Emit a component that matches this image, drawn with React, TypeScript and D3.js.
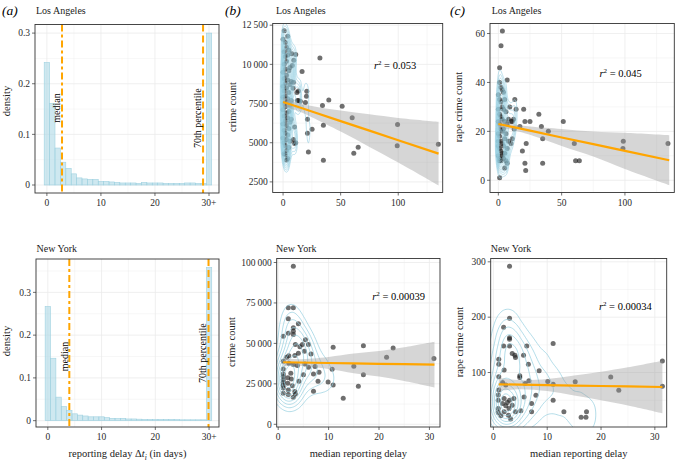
import React, { useEffect, useRef } from "react";
import * as d3 from "d3";

// ---- (a) reporting delay histograms, one bin per day, last bin is "30+" ----
const delayBins = [0, 1, 2, 3, 4, 5, 6, 7, 8, 9, 10, 11, 12, 13, 14, 15, 16, 17, 18, 19, 20, 21, 22, 23, 24, 25, 26, 27, 28, 29, 30];
const laDensity = [0.242, 0.161, 0.073, 0.045, 0.033, 0.022, 0.014, 0.012, 0.011, 0.011, 0.007, 0.007, 0.006, 0.005, 0.004, 0.004, 0.004, 0.003, 0.005, 0.004, 0.004, 0.004, 0.003, 0.003, 0.003, 0.003, 0.004, 0.004, 0.003, 0.003, 0.3];
const nyDensity = [0.267, 0.146, 0.055, 0.033, 0.024, 0.016, 0.013, 0.011, 0.009, 0.009, 0.009, 0.007, 0.0055, 0.005, 0.0055, 0.004, 0.004, 0.0035, 0.003, 0.003, 0.003, 0.003, 0.003, 0.003, 0.0025, 0.002, 0.002, 0.002, 0.002, 0.002, 0.358];
const delayTicks = [0, 10, 20, 30];
const delayTickLabels = ["0", "10", "20", "30+"];
const laMedian = 2.8;
const laPct70 = 28.9;
const nyMedian = 4.0;
const nyPct70 = 29.9;

// ---- (b),(c) scatter: [median reporting delay, count] ----
const laCrime = [
  [32, 10400], [16.5, 9550], [11, 10630], [7.5, 10670], [9.3, 10270], [8, 9920], [20.6, 8290], [20.3, 7970],
  [19.4, 7560], [39.7, 7730], [34.2, 7370], [51.3, 7330], [60, 6590], [21.2, 6500], [35, 6120], [25.2, 5860],
  [21.2, 5600], [99.4, 6160], [99.1, 4800], [134.8, 4900], [65.2, 4710], [61.4, 4330], [22, 4410], [35, 3880],
  [13.3, 8300], [12, 8200], [12.5, 7700], [13.5, 7700], [15, 7650], [8.7, 8480], [9, 8860], [10, 6000],
  [9, 5200], [11, 5000], [10, 4950],
  [1, 12150], [0, 11600], [4, 11800], [2, 11400], [3, 11100], [5, 10900], [1, 10800], [2, 10500], [4, 10600],
  [3, 10200], [1, 10000], [2, 9700], [0, 9500], [5, 9600], [3, 9300], [1, 9100], [4, 9000], [2, 8800], [0, 8600],
  [6, 8700], [3, 8500], [1, 8300], [5, 8200], [2, 8000], [0, 7900], [4, 7800], [3, 7600], [1, 7500], [6, 7400],
  [2, 7300], [0, 7100], [5, 7000], [3, 6900], [1, 6700], [4, 6600], [2, 6400], [7, 6500], [0, 6200], [3, 6100],
  [5, 5900], [1, 5800], [2, 5600], [4, 5500], [0, 5300], [3, 5200], [6, 5100], [1, 5000], [2, 4800], [5, 4700],
  [3, 4500], [1, 4300], [2, 4250], [4, 4000], [3, 3900], [6, 6300], [7, 7700], [6, 9800], [7, 8900],
];
const laRape = [
  [3.2, 61], [2.1, 55], [1, 46], [7, 41], [13, 33], [14, 29], [20, 29], [32, 27], [21, 24], [25, 24], [51.3, 24],
  [34, 22], [39.5, 20], [17, 22], [35, 17], [22, 15], [19, 12], [60, 15], [98.7, 16], [98.4, 13], [134, 15],
  [61, 8], [64, 8], [35, 7], [21, 7], [21.6, 4], [1, 1], [12, 25], [12.5, 21], [11, 17], [10, 15], [7, 7], [5, 5],
  [10, 24], [9, 30], [11, 24],
  [1, 40], [2, 38], [3, 37], [0, 35], [4, 36], [1, 33], [2, 32], [5, 33], [3, 30], [0, 29], [4, 29], [1, 27],
  [6, 28], [2, 26], [3, 25], [0, 24], [5, 24], [1, 23], [7, 23], [2, 21], [4, 21], [3, 20], [0, 19], [6, 19],
  [1, 18], [5, 17], [2, 16], [3, 15], [0, 14], [4, 14], [1, 13], [7, 13], [2, 12], [3, 11], [5, 11], [0, 10],
  [1, 9], [4, 9], [2, 8], [6, 8], [3, 10], [8, 16], [8, 25], [1, 8], [0, 16],
];
const nyCrime = [
  [3, 97700], [2, 72000], [3, 72000], [2, 65200], [4, 62100], [3, 59600], [3, 57500], [3, 55500], [2, 56300],
  [1, 54400], [5.4, 52200], [4.8, 49300], [3.4, 49300], [6, 49300], [6.5, 43500], [5.2, 45200], [4.3, 48000],
  [4, 43900], [3.3, 42500], [2.1, 42300], [1.7, 41400], [1, 39000], [2.1, 37700], [3, 36900], [3.8, 36300],
  [5.3, 37300], [6, 35300], [7.3, 35700], [8.1, 32200], [7, 31100], [5, 30700], [1, 34200], [1, 31100],
  [1, 29500], [1, 27600], [1, 26000], [1, 24100], [1, 22500], [1.9, 28700], [1.9, 25400], [2.5, 31500],
  [2.6, 28000], [2.8, 23900], [2, 21200], [3.3, 20200], [2, 18400], [3, 16700], [3.4, 18800], [1, 19200],
  [4.1, 26600], [7.9, 26600], [7, 20400], [9.9, 26200], [10.9, 24300], [10.9, 47600], [10.7, 34000],
  [12.9, 16100], [15, 35900], [16.9, 48500], [16.9, 30700], [15.9, 23500], [21.5, 41400], [22.8, 47200],
  [30.9, 40600],
];
const nyRape = [
  [3, 292], [3, 198], [1.9, 182], [3, 163], [3, 160], [3, 148], [1.9, 148], [3.5, 134.5], [4, 131], [4.1, 127],
  [5.6, 131], [6.2, 148], [11.1, 152.5], [1, 124], [1, 115], [6.5, 115], [8.5, 103], [4.9, 94], [4.9, 91],
  [5.9, 80], [6.6, 85], [2, 104.5], [1, 92.5], [1.7, 82], [2.3, 77.5], [1, 68.5], [0.9, 59.5],
  [0.9, 50], [0.9, 35], [0.9, 28], [1.7, 44], [2, 53], [2.3, 40], [2.6, 46], [2.9, 35], [3, 50], [3.5, 41],
  [3.8, 53], [2, 29], [2.8, 23], [3.2, 16], [4.1, 29], [1.4, 22], [5.1, 31], [5.7, 56], [7.1, 44], [7.1, 29],
  [7.9, 59], [10.1, 84], [11.1, 79], [11.1, 50], [13.1, 29], [16.3, 19], [17.2, 19], [17.3, 29], [15.2, 83.5],
  [21.8, 92], [23.3, 68], [31.4, 121], [31.4, 75],
];

// ---- linear fits: [x, fit, lower, upper] ----
const laCrimeFit = [[0, 7600, 7270, 7930], [12, 7307, 7057, 7557], [25, 6990, 6630, 7350], [50, 6380, 5710, 7050], [75, 5770, 4730, 6810], [100, 5160, 3740, 6580], [135, 4306, 2276, 6336]];
const laRapeFit = [[0, 23, 21.5, 24.5], [12, 21.7, 20.5, 22.9], [25, 20.3, 18.6, 22], [50, 17.5, 14, 21], [75, 14.8, 9.7, 19.9], [100, 12, 4.6, 19.4], [135, 8.2, -2, 18.4]];
const nyCrimeFit = [[1, 38350, 35800, 40900], [4, 38200, 36200, 40200], [10, 37900, 34200, 41600], [15, 37650, 31600, 43700], [20, 37400, 29500, 45300], [25, 37200, 26800, 47600], [31, 36900, 22800, 51000]];
const nyRapeFit = [[1, 78.7, 66.7, 90.7], [5, 78.1, 70, 86.2], [10, 77.3, 66.5, 88.1], [15, 76.5, 58.5, 94.5], [20, 75.7, 50, 101.4], [25, 75, 40.5, 109.5], [31.4, 73.9, 26.4, 121.4]];
const r2Labels = ["0.053", "0.045", "0.00039", "0.00034"];

const FONT = "'Liberation Serif', 'DejaVu Serif', serif";
const ORANGE = "#FFA500";
const BLUE = "#add8e6";

const fmtCount = (v) => (v >= 10000 ? d3.format(",")(v).replace(/,/g, "\u2009") : String(v));

function grid(g, box, x, y, xMajor, xMinor, yMajor, yMinor) {
  g.append("rect").attr("x", box.x0).attr("y", box.y0)
    .attr("width", box.x1 - box.x0).attr("height", box.y1 - box.y0).attr("fill", "#fff");
  const gl = g.append("g").attr("stroke", "#ebebeb");
  const vert = (vals, w) => gl.append("g").selectAll("line").data(vals).join("line")
    .attr("x1", (d) => x(d)).attr("x2", (d) => x(d)).attr("y1", box.y0).attr("y2", box.y1).attr("stroke-width", w);
  const hor = (vals, w) => gl.append("g").selectAll("line").data(vals).join("line")
    .attr("y1", (d) => y(d)).attr("y2", (d) => y(d)).attr("x1", box.x0).attr("x2", box.x1).attr("stroke-width", w);
  vert(xMinor, 0.4); hor(yMinor, 0.4); vert(xMajor, 0.8); hor(yMajor, 0.8);
}

function axes(g, box, x, y, xTicks, xLabels, yTicks, yLabels) {
  g.append("rect").attr("x", box.x0).attr("y", box.y0)
    .attr("width", box.x1 - box.x0).attr("height", box.y1 - box.y0)
    .attr("fill", "none").attr("stroke", "#333").attr("stroke-width", 0.9);
  g.append("g").selectAll("line").data(xTicks).join("line")
    .attr("x1", (d) => x(d)).attr("x2", (d) => x(d)).attr("y1", box.y1).attr("y2", box.y1 + 3)
    .attr("stroke", "#333").attr("stroke-width", 0.7);
  g.append("g").selectAll("text").data(xTicks).join("text")
    .attr("x", (d) => x(d)).attr("y", box.y1 + 13).attr("text-anchor", "middle")
    .style("font-size", "9.5px").style("fill", "#2a2a2a").text((d, i) => xLabels[i]);
  g.append("g").selectAll("line").data(yTicks).join("line")
    .attr("y1", (d) => y(d)).attr("y2", (d) => y(d)).attr("x1", box.x0 - 3).attr("x2", box.x0)
    .attr("stroke", "#333").attr("stroke-width", 0.7);
  g.append("g").selectAll("text").data(yTicks).join("text")
    .attr("x", box.x0 - 5).attr("y", (d) => y(d) + 3.3).attr("text-anchor", "end")
    .style("font-size", "9.5px").style("fill", "#2a2a2a").text((d, i) => yLabels[i]);
}

function yTitle(svg, x, y, label) {
  svg.append("text").attr("transform", `translate(${x},${y}) rotate(-90)`)
    .attr("text-anchor", "middle").style("font-size", "10.5px").style("fill", "#222").text(label);
}

function drawHist(svg, box, vals, median, pct70, yDomain, yMajor, yMinor, medY, pctY) {
  const x = d3.scaleLinear().domain([-2.2, 31.85]).range([box.x0, box.x1]);
  const y = d3.scaleLinear().domain(yDomain).range([box.y1, box.y0]);
  const g = svg.append("g");
  grid(g, box, x, y, delayTicks, [5, 15, 25], yMajor, yMinor);

  g.append("g").selectAll("rect").data(delayBins).join("rect")
    .attr("x", (d) => x(d - 0.5)).attr("width", (d) => x(d + 0.5) - x(d - 0.5))
    .attr("y", (d, i) => y(vals[i])).attr("height", (d, i) => y(0) - y(vals[i]))
    .attr("fill", BLUE).attr("fill-opacity", 0.6).attr("stroke", "#9fd1e0").attr("stroke-width", 0.6);

  g.append("line").attr("x1", x(median)).attr("x2", x(median)).attr("y1", box.y0).attr("y2", box.y1)
    .attr("stroke", ORANGE).attr("stroke-width", 2).attr("stroke-dasharray", "7,3,3,3");
  g.append("line").attr("x1", x(pct70)).attr("x2", x(pct70)).attr("y1", box.y0).attr("y2", box.y1)
    .attr("stroke", ORANGE).attr("stroke-width", 2).attr("stroke-dasharray", "7,4");

  g.append("text").attr("transform", `translate(${x(median) - 1.8},${y(medY)}) rotate(-90)`)
    .attr("text-anchor", "middle").style("font-size", "10px").text("median");
  g.append("text").attr("transform", `translate(${x(pct70) - 2.2},${y(pctY)}) rotate(-90)`)
    .attr("text-anchor", "middle").style("font-size", "10px").text("70th percentile");

  axes(g, box, x, y, delayTicks, delayTickLabels, yMajor, yMajor.map((v) => (v === 0 ? "0" : d3.format(".1f")(v))));
}

function drawScatter(svg, defs, o) {
  const { id, box, xDom, yDom, pts, fit, sx, sy, levels, minFrac, r2, r2At } = o;
  const x = d3.scaleLinear().domain(xDom).range([box.x0, box.x1]);
  const y = d3.scaleLinear().domain(yDom).range([box.y1, box.y0]);
  const g = svg.append("g");
  grid(g, box, x, y, o.xMajor, o.xMinor, o.yMajor, o.yMinor);

  defs.append("clipPath").attr("id", id).append("rect")
    .attr("x", box.x0).attr("y", box.y0).attr("width", box.x1 - box.x0).attr("height", box.y1 - box.y0);
  const inner = g.append("g").attr("clip-path", `url(#${id})`);

  // points
  inner.append("g").selectAll("circle").data(pts).join("circle")
    .attr("cx", (d) => x(d[0])).attr("cy", (d) => y(d[1])).attr("r", 2.5)
    .attr("fill", "#222").attr("fill-opacity", 0.65);

  // 2d density contours (anisotropic: stretch x before estimating)
  const w = box.x1 - box.x0;
  const h = box.y1 - box.y0;
  const f = sy / sx;
  const sp = pts.map((d) => [(x(d[0]) - box.x0) * f, y(d[1]) - box.y0]);
  const dens = d3.contourDensity()
    .x((d) => d[0])
    .y((d) => d[1])
    .size([Math.ceil(w * f), Math.ceil(h)])
    .cellSize(2)
    .bandwidth(sy);
  const cf = dens.contours(sp);
  const thresholds = d3.range(1, levels + 1).map((i) => (cf.max * i) / (levels + 1)).filter((t) => t >= cf.max * minFrac);
  // keep only the rings that enclose a group of points (drop halos around lone points)
  const shapes = thresholds.map((t) => {
    const c = cf(t);
    return {
      ...c,
      coordinates: c.coordinates.filter((poly) => sp.filter((p) => d3.polygonContains(poly[0], p)).length >= o.minPts),
    };
  });
  const proj = d3.geoTransform({
    point(px, py) { this.stream.point(box.x0 + px / f, box.y0 + py); },
  });
  const path = d3.geoPath(proj);
  inner.append("g").selectAll("path").data(shapes).join("path")
    .attr("d", path).attr("fill", "none").attr("stroke", "#93cfe0").attr("stroke-width", o.cw);

  // fit ribbon + line
  inner.append("path").datum(fit)
    .attr("d", d3.area().x((d) => x(d[0])).y0((d) => y(d[2])).y1((d) => y(d[3])).curve(d3.curveCatmullRom))
    .attr("fill", "#999").attr("fill-opacity", 0.4);
  inner.append("path").datum(fit)
    .attr("d", d3.line().x((d) => x(d[0])).y((d) => y(d[1])))
    .attr("fill", "none").attr("stroke", ORANGE).attr("stroke-width", 2.2);

  const t = g.append("text").attr("x", box.x0 + r2At[0] * w).attr("y", box.y0 + r2At[1] * h + 3.5)
    .attr("text-anchor", "middle").style("font-size", "10.5px");
  t.append("tspan").style("font-style", "italic").text("r");
  t.append("tspan").attr("dy", -4).style("font-size", "7px").text("2");
  t.append("tspan").attr("dy", 4).text(` = ${r2}`);

  axes(g, box, x, y, o.xMajor, o.xMajor.map(String), o.yMajor, o.yMajor.map(fmtCount));
}

export default function App() {
  const svgRef = useRef(null);

  useEffect(() => {
    const svg = d3.select(svgRef.current);
    svg.selectAll("*").remove();
    svg.attr("font-family", FONT);
    const defs = svg.append("defs");

    // panel boxes
    const A1 = { x0: 35, x1: 219, y0: 24.5, y1: 193 };
    const B1 = { x0: 272.7, x1: 442.7, y0: 23.5, y1: 192.5 };
    const C1 = { x0: 490, x1: 674.3, y0: 23.5, y1: 192.5 };
    const A2 = { x0: 36, x1: 219, y0: 259, y1: 427 };
    const B2 = { x0: 276.7, x1: 440, y0: 258.5, y1: 427 };
    const C2 = { x0: 490.7, x1: 666.7, y0: 258.5, y1: 427 };

    // --- (a) histograms ---
    drawHist(svg, A1, laDensity, laMedian, laPct70, [-0.0158, 0.317], [0, 0.1, 0.2, 0.3], [0.05, 0.15, 0.25], 0.152, 0.132);
    drawHist(svg, A2, nyDensity, nyMedian, nyPct70, [-0.0148, 0.378], [0, 0.1, 0.2, 0.3], [0.05, 0.15, 0.25, 0.35], 0.15, 0.158);

    // --- (b) crime count ---
    drawScatter(svg, defs, {
      id: "clipB1", box: B1, xDom: [-9, 138.6], yDom: [1824, 12608], pts: laCrime, fit: laCrimeFit,
      sx: 2, sy: 10, levels: 16, minFrac: 0.15, minPts: 8, cw: 0.6, r2: r2Labels[0], r2At: [0.72, 0.25],
      xMajor: [0, 50, 100], xMinor: [25, 75, 125], yMajor: [2500, 5000, 7500, 10000, 12500], yMinor: [3750, 6250, 8750, 11250],
    });
    drawScatter(svg, defs, {
      id: "clipB2", box: B2, xDom: [-0.3, 32.1], yDom: [-1670, 102475], pts: nyCrime, fit: nyCrimeFit,
      sx: 8, sy: 13, levels: 9, minFrac: 0.12, minPts: 4, cw: 0.7, r2: r2Labels[2], r2At: [0.747, 0.228],
      xMajor: [0, 10, 20, 30], xMinor: [5, 15, 25], yMajor: [0, 25000, 50000, 75000, 100000], yMinor: [12500, 37500, 62500, 87500],
    });

    // --- (c) rape crime count ---
    drawScatter(svg, defs, {
      id: "clipC1", box: C1, xDom: [-6.6, 139], yDom: [-5, 64.1], pts: laRape, fit: laRapeFit,
      sx: 2, sy: 9, levels: 16, minFrac: 0.15, minPts: 8, cw: 0.6, r2: r2Labels[1], r2At: [0.709, 0.297],
      xMajor: [0, 50, 100], xMinor: [25, 75, 125], yMajor: [0, 20, 40, 60], yMinor: [10, 30, 50],
    });
    drawScatter(svg, defs, {
      id: "clipC2", box: C2, xDom: [-0.5, 32.2], yDom: [1.6, 306], pts: nyRape, fit: nyRapeFit,
      sx: 8.5, sy: 13, levels: 9, minFrac: 0.08, minPts: 4, cw: 0.7, r2: r2Labels[3], r2At: [0.765, 0.284],
      xMajor: [0, 10, 20, 30], xMinor: [5, 15, 25], yMajor: [100, 200, 300], yMinor: [50, 150, 250],
    });

    // --- panel letters and titles ---
    [["(a)", 2], ["(b)", 225], ["(c)", 450]].forEach(([s, px]) =>
      svg.append("text").attr("x", px).attr("y", 15).style("font-size", "13.5px").style("font-style", "italic").text(s));
    [36, 276, 491.7].forEach((px) => svg.append("text").attr("x", px).attr("y", 14).style("font-size", "10px").style("fill", "#222").text("Los Angeles"));
    [36.5, 276, 490.7].forEach((px) => svg.append("text").attr("x", px).attr("y", 251.5).style("font-size", "10px").style("fill", "#222").text("New York"));

    // --- axis titles ---
    yTitle(svg, 10, 101, "density");
    yTitle(svg, 10, 341, "density");
    yTitle(svg, 236, 107, "crime count");
    yTitle(svg, 235, 342, "crime count");
    yTitle(svg, 462, 107, "rape crime count");
    yTitle(svg, 463, 342, "rape crime count");

    const xl = svg.append("text").attr("x", (A2.x0 + A2.x1) / 2).attr("y", 457).attr("text-anchor", "middle").style("font-size", "10.5px").style("fill", "#222");
    xl.append("tspan").text("reporting delay \u0394");
    xl.append("tspan").style("font-style", "italic").text("t");
    xl.append("tspan").attr("dy", 2.5).style("font-size", "7.5px").style("font-style", "italic").text("i");
    xl.append("tspan").attr("dy", -2.5).text(" (in days)");
    svg.append("text").attr("x", (B2.x0 + B2.x1) / 2).attr("y", 457).attr("text-anchor", "middle").style("font-size", "10.5px").style("fill", "#222").text("median reporting delay");
    svg.append("text").attr("x", (C2.x0 + C2.x1) / 2).attr("y", 457).attr("text-anchor", "middle").style("font-size", "10.5px").style("fill", "#222").text("median reporting delay");
  }, []);

  return (
    <svg
      ref={svgRef}
      width="677"
      height="462"
      style={{ position: "absolute", left: 0, top: 0, background: "#fff" }}
    ></svg>
  );
}
